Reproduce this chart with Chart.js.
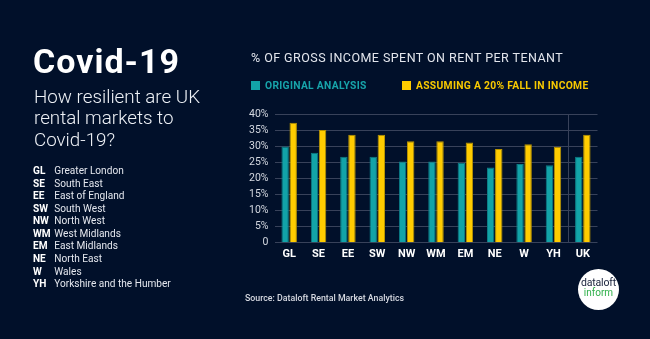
<!DOCTYPE html>
<html>
<head>
<meta charset="utf-8">
<script src="https://cdn.jsdelivr.net/npm/chart.js@4"></script>
<style>
  html, body { margin:0; padding:0; background:#01102a; width:650px; height:339px; overflow:hidden; font-family: Roboto, "Noto Sans", sans-serif; }
  #c { position:absolute; left:0; top:0; }
  .t { position:absolute; white-space:nowrap; }
  #title { left:33px; top:44.4px; font-size:34px; line-height:34px; font-weight:700; color:#ffffff; letter-spacing:1px; }
  #sub { left:34px; top:87px; font-size:18.8px; line-height:21.4px; font-weight:300; color:#eef1f6; }
  #abbr { left:33px; top:165px; font-size:10.1px; line-height:12.57px; color:#e4e7ee; }
  #abbr b { display:inline-block; width:21.3px; font-weight:700; color:#ffffff; }
  #ctitle { left:251px; top:52px; font-size:12.5px; line-height:12.5px; color:#e2e5ec; letter-spacing:0.45px; }
  .leg { top:80.5px; font-size:10.3px; line-height:9px; font-weight:700; letter-spacing:0.3px; }
  .sw { display:inline-block; width:9px; height:9px; margin-right:5px; vertical-align:top; }
  #src { left:245px; top:293.5px; font-size:8.8px; line-height:8.8px; color:#d6d9e1; font-weight:500; }
  #logo { position:absolute; left:578px; top:268.5px; width:41px; height:41px; border-radius:50%; background:#ffffff; text-align:center; }
  #logo .a { position:absolute; left:0; width:41px; top:9.5px; font-size:10.5px; line-height:10.5px; color:#17203a; letter-spacing:-0.2px; }
  #logo .b { position:absolute; left:0; width:41px; top:19.5px; font-size:10px; line-height:10px; color:#2fb04a; }
</style>
</head>
<body>
<canvas id="c" width="650" height="339"></canvas>
<div class="t" id="title">Covid-19</div>
<div class="t" id="sub">How resilient are UK<br>rental markets to<br>Covid-19?</div>
<div class="t" id="abbr"></div>
<div class="t" id="ctitle">% OF GROSS INCOME SPENT ON RENT PER TENANT</div>
<div class="t leg" id="leg1" style="left:251px;color:#17a4aa;"><span class="sw" style="background:#12a3a8"></span>ORIGINAL ANALYSIS</div>
<div class="t leg" id="leg2" style="left:402px;color:#f7c900;"><span class="sw" style="background:#ffcc00"></span>ASSUMING A 20% FALL IN INCOME</div>
<div class="t" id="src">Source: Dataloft Rental Market Analytics</div>
<div id="logo"><div class="a">dataloft</div><div class="b">inform</div></div>
<script>
const categories = ["GL","SE","EE","SW","NW","WM","EM","NE","W","YH","UK"];
const regionNames = ["Greater London","South East","East of England","South West","North West","West Midlands","East Midlands","North East","Wales","Yorkshire and the Humber"];
const seriesNames = ["ORIGINAL ANALYSIS","ASSUMING A 20% FALL IN INCOME"];
const originalAnalysis = [30.0, 28.0, 26.8, 26.8, 25.3, 25.3, 24.9, 23.4, 24.5, 24.1, 26.8];
const fallInIncome = [37.4, 35.1, 33.6, 33.6, 31.6, 31.6, 31.2, 29.2, 30.7, 29.9, 33.6];
const yTicks = [0, 5, 10, 15, 20, 25, 30, 35, 40];

document.getElementById('abbr').innerHTML = regionNames.map((n,i)=>'<b>'+categories[i]+'</b>'+n).join('<br>');

const gridCol = '#38425a';
new Chart(document.getElementById('c'), {
  type: 'bar',
  data: {
    labels: categories,
    datasets: [
      { label: seriesNames[0], data: originalAnalysis, backgroundColor:'#12a3a8', borderColor:'#0c7d86', borderWidth:1, categoryPercentage:0.55, barPercentage:0.92 },
      { label: seriesNames[1], data: fallInIncome, backgroundColor:'#ffcc00', borderColor:'#b89400', borderWidth:1, categoryPercentage:0.55, barPercentage:0.92 }
    ]
  },
  options: {
    responsive:false, devicePixelRatio:1, animation:false,
    layout: { padding: { left:0, top:114.3, right:52.5, bottom:0 } },
    plugins: { legend:{display:false}, tooltip:{enabled:false} },
    scales: {
      x: {
        border:{display:false},
        grid:{ drawTicks:false, offset:true, lineWidth:1,
          color:(ctx)=> ctx.index === 10 ? gridCol : 'rgba(0,0,0,0)' },
        ticks:{ color:'#ffffff', padding:5, font:{family:'Roboto', size:11, weight:'bold'}, maxRotation:0 },
        afterFit:(s)=>{ s.height = 96.3; }
      },
      y: {
        min:0, max:40,
        border:{display:false},
        grid:{ drawTicks:false, color:gridCol, lineWidth:1 },
        afterBuildTicks:(s)=>{ s.ticks = yTicks.map(v=>({value:v})); },
        ticks:{ color:'#d4d8e0', padding:6, font:{family:'Roboto', size:10.5},
          callback:(v)=> v === 0 ? '0' : v + '%' },
        afterFit:(s)=>{ s.width = 274.5; }
      }
    }
  }
});
</script>
</body>
</html>
